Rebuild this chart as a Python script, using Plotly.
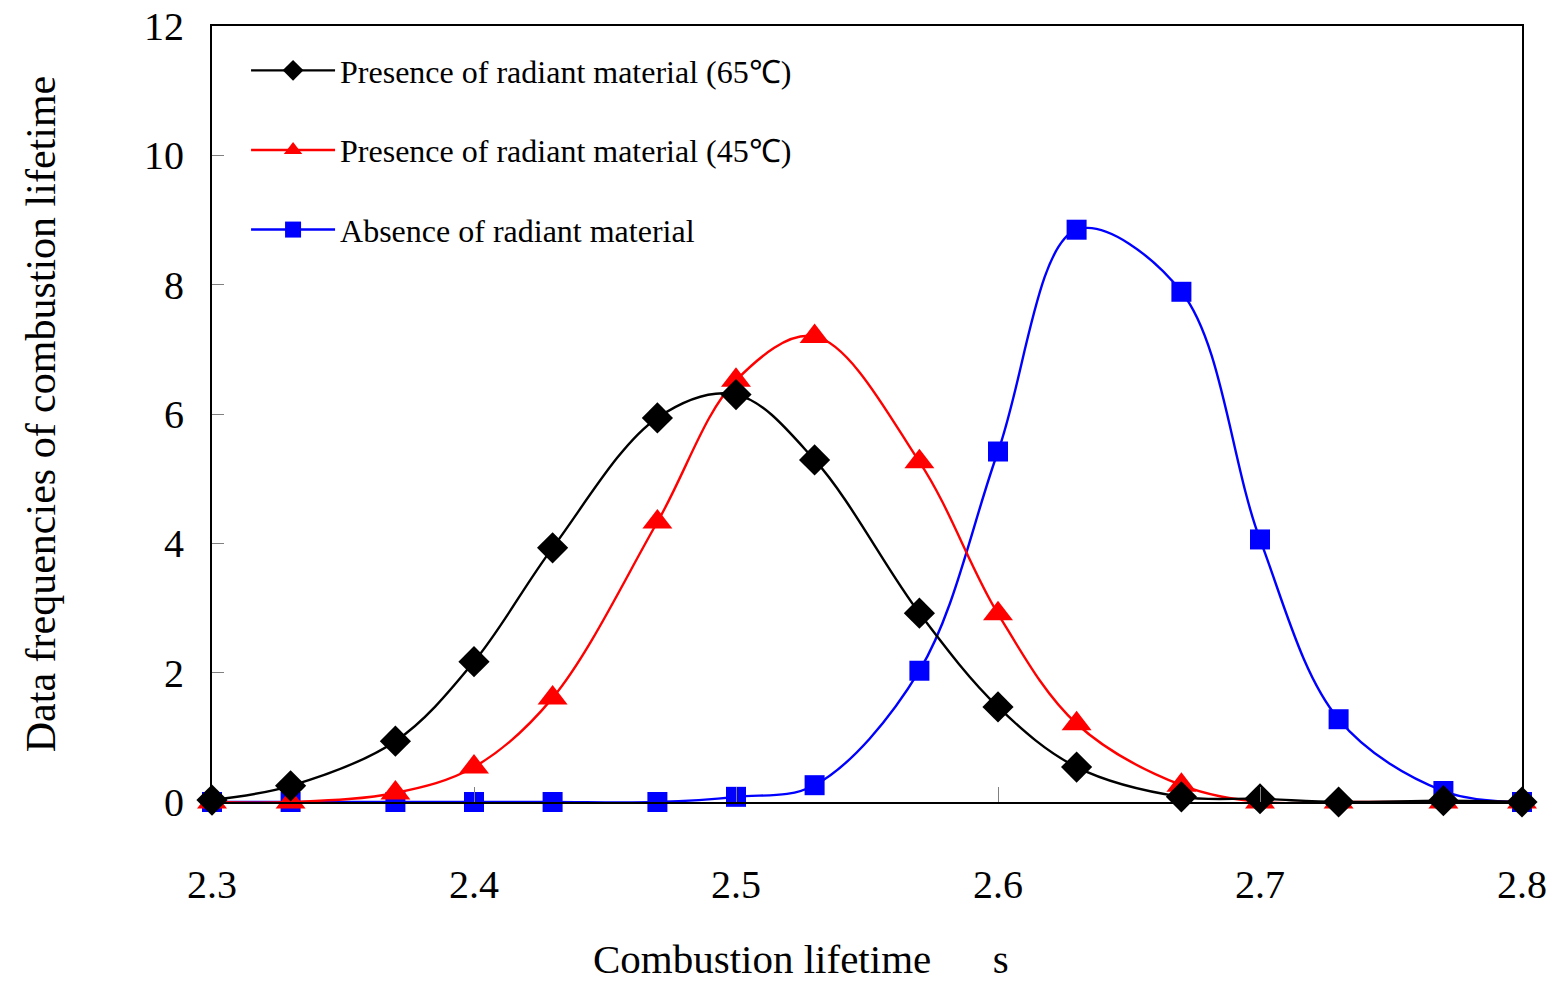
import plotly.graph_objects as go

x_vals = [2.30, 2.33, 2.37, 2.40, 2.43, 2.47, 2.50, 2.53, 2.57, 2.60, 2.63, 2.67, 2.70, 2.73, 2.77, 2.80]
black_65 = [0.03, 0.25, 0.94, 2.17, 3.93, 5.94, 6.30, 5.29, 2.92, 1.47, 0.54, 0.08, 0.05, 0.0, 0.02, 0.0]
red_45 = [0.0, 0.0, 0.14, 0.54, 1.61, 4.33, 6.52, 7.20, 5.26, 2.91, 1.21, 0.26, 0.0, 0.0, 0.0, 0.0]
blue_abs = [0.0, 0.0, 0.0, 0.0, 0.0, 0.0, 0.08, 0.26, 2.03, 5.42, 8.85, 7.89, 4.06, 1.28, 0.17, 0.0]

names = ["Presence of radiant material (65\u2103)",
         "Presence of radiant material (45\u2103)",
         "Absence of radiant material"]

FONT = "Liberation Serif, Times New Roman, serif"

fig = go.Figure()
series = [
    (blue_abs, names[2], "#0000ff", "square", 20, "g3"),
    (red_45, names[1], "#ff0000", "triangle-up", 26, "g2"),
    (black_65, names[0], "#000000", "diamond", 24, "g1"),
]
for ys, nm, col, sym, sz, grp in series:
    fig.add_trace(go.Scatter(
        x=x_vals, y=ys, name=nm, mode="lines+markers",
        line=dict(color=col, width=2.4, shape="spline", smoothing=1.0),
        marker=dict(symbol=sym, size=sz, color=col, line=dict(width=0)),
        cliponaxis=False, legendgroup=grp, legendrank={"g1": 1, "g2": 2, "g3": 3}[grp],
    ))

fig.update_layout(
    width=1556, height=984,
    margin=dict(l=212, r=34, t=26, b=182, autoexpand=False),
    paper_bgcolor="white", plot_bgcolor="white",
    font=dict(family=FONT, color="black"),
    showlegend=True,
    legend=dict(
        x=0.026, y=0.978, xanchor="left", yanchor="top",
        bgcolor="rgba(0,0,0,0)", font=dict(size=32, family=FONT),
        traceorder="grouped", tracegroupgap=35, itemwidth=84,
    ),
    xaxis=dict(
        range=[2.3, 2.8], tickvals=[2.3, 2.4, 2.5, 2.6, 2.7, 2.8],
        ticktext=["2.3", "2.4", "2.5", "2.6", "2.7", "2.8"],
        ticks="inside", ticklen=15, tickcolor="#808080", tickwidth=1,
        ticklabelstandoff=46, automargin=False,
        tickfont=dict(size=40, family=FONT),
        showline=True, linecolor="black", linewidth=2, mirror=True,
        showgrid=False, zeroline=False,
    ),
    yaxis=dict(
        range=[0, 12], tickvals=[0, 2, 4, 6, 8, 10, 12],
        ticks="inside", ticklen=12, tickcolor="#808080", tickwidth=1,
        ticklabelstandoff=18, automargin=False,
        tickfont=dict(size=40, family=FONT),
        showline=True, linecolor="black", linewidth=2, mirror=True,
        showgrid=False, zeroline=False,
        title=dict(text="Data frequencies of combustion lifetime",
                   font=dict(size=42, family=FONT), standoff=75),
    ),
    annotations=[dict(
        text="Combustion lifetime\u00a0\u00a0\u00a0\u00a0\u00a0\u00a0s",
        xref="paper", yref="paper", x=(801 - 212) / 1310, y=-(959 - 802) / 776,
        xanchor="center", yanchor="middle", showarrow=False,
        font=dict(size=41, family=FONT),
    )],
)

fig.write_html("out.html")
